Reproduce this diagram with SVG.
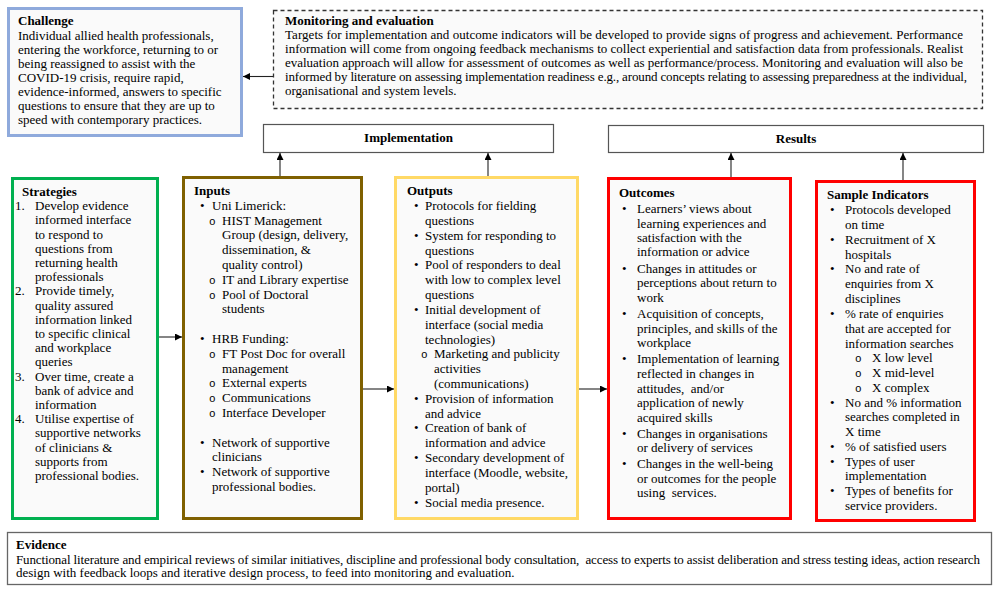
<svg xmlns="http://www.w3.org/2000/svg" width="1000" height="592" viewBox="0 0 1000 592">
<style>
text{font-family:"Liberation Serif","Times New Roman",serif;font-size:13px;fill:#000}
.b{font-weight:bold}
.c{text-anchor:middle}
.o{font-family:"Liberation Mono","Courier New",monospace;font-size:11px}
.box{fill:#fafafa;stroke-width:3}
.conn{fill:none;stroke:#222;stroke-width:1.1}
</style>
<defs>
<marker id="ah" markerWidth="8" markerHeight="8" refX="7" refY="3.5" orient="auto" markerUnits="userSpaceOnUse"><path d="M0,0 L7,3.5 L0,7 z" fill="#000"/></marker>
</defs>
<rect width="1000" height="592" fill="#fff"/>

<g id="challenge">
<rect class="box" x="8.5" y="8.5" width="233" height="127" stroke="#8FAADC"/>
<text x="18" y="25" class="b">Challenge</text>
<text x="18" y="39.5">Individual allied health professionals,</text>
<text x="18" y="53.5">entering the workforce, returning to or</text>
<text x="18" y="67.5">being reassigned to assist with the</text>
<text x="18" y="81.5">COVID-19 crisis, require rapid,</text>
<text x="18" y="95.5">evidence-informed, answers to specific</text>
<text x="18" y="109.5">questions to ensure that they are up to</text>
<text x="18" y="123.5">speed with contemporary practices.</text>
</g>

<g id="monitoring">
<rect x="273.5" y="10.5" width="709" height="98" fill="#fafafa" stroke="#333" stroke-width="1.3" stroke-dasharray="4,3"/>
<text x="285" y="25" class="b">Monitoring and evaluation</text>
<text x="285" y="39.3" textLength="678" lengthAdjust="spacing">Targets for implementation and outcome indicators will be developed to provide signs of progress and achievement. Performance</text>
<text x="285" y="53.3" textLength="678" lengthAdjust="spacing">information will come from ongoing feedback mechanisms to collect experiential and satisfaction data from professionals. Realist</text>
<text x="285" y="67" textLength="678" lengthAdjust="spacing">evaluation approach will allow for assessment of outcomes as well as performance/process. Monitoring and evaluation will also be</text>
<text x="285" y="81" textLength="682" lengthAdjust="spacing">informed by literature on assessing implementation readiness e.g., around concepts relating to assessing preparedness at the individual,</text>
<text x="285" y="95">organisational and system levels.</text>
</g>

<g id="implementation">
<rect x="263.5" y="124.5" width="290" height="28" fill="#fff" stroke="#555" stroke-width="1.2"/>
<text x="408.5" y="142" class="b c">Implementation</text>
</g>

<g id="results">
<rect x="608.5" y="125.5" width="375" height="27" fill="#fff" stroke="#555" stroke-width="1.2"/>
<text x="796" y="143" class="b c">Results</text>
</g>

<g id="strategies">
<rect class="box" x="12.5" y="178.5" width="145" height="340" stroke="#00B050"/>
<text x="22" y="196" class="b">Strategies</text>
<text x="15" y="210.2">1.</text><text x="35" y="210.2">Develop evidence</text>
<text x="35" y="224.4">informed interface</text>
<text x="35" y="238.6">to respond to</text>
<text x="35" y="252.8">questions from</text>
<text x="35" y="267">returning health</text>
<text x="35" y="281.2">professionals</text>
<text x="15" y="295.4">2.</text><text x="35" y="295.4">Provide timely,</text>
<text x="35" y="309.6">quality assured</text>
<text x="35" y="323.8">information linked</text>
<text x="35" y="338">to specific clinical</text>
<text x="35" y="352.2">and workplace</text>
<text x="35" y="366.4">queries</text>
<text x="15" y="380.6">3.</text><text x="35" y="380.6">Over time, create a</text>
<text x="35" y="394.8">bank of advice and</text>
<text x="35" y="409">information</text>
<text x="15" y="423.2">4.</text><text x="35" y="423.2">Utilise expertise of</text>
<text x="35" y="437.4">supportive networks</text>
<text x="35" y="451.6">of clinicians &amp;</text>
<text x="35" y="465.8">supports from</text>
<text x="35" y="480">professional bodies.</text>
</g>

<g id="inputs">
<rect class="box" x="183.5" y="177.5" width="178" height="341" stroke="#7F6000"/>
<text x="194" y="195" class="b">Inputs</text>
<text x="200" y="209.8">•</text><text x="212" y="209.8">Uni Limerick:</text>
<text x="209" y="224.6" class="o">o</text><text x="222" y="224.6">HIST Management</text>
<text x="222" y="239.4">Group (design, delivery,</text>
<text x="222" y="254.2">dissemination, &amp;</text>
<text x="222" y="269">quality control)</text>
<text x="209" y="283.8" class="o">o</text><text x="222" y="283.8">IT and Library expertise</text>
<text x="209" y="298.6" class="o">o</text><text x="222" y="298.6">Pool of Doctoral</text>
<text x="222" y="313.4">students</text>
<text x="200" y="343">•</text><text x="212" y="343">HRB Funding:</text>
<text x="209" y="357.8" class="o">o</text><text x="222" y="357.8">FT Post Doc for overall</text>
<text x="222" y="372.6">management</text>
<text x="209" y="387.4" class="o">o</text><text x="222" y="387.4">External experts</text>
<text x="209" y="402.2" class="o">o</text><text x="222" y="402.2">Communications</text>
<text x="209" y="417" class="o">o</text><text x="222" y="417">Interface Developer</text>
<text x="200" y="446.6">•</text><text x="212" y="446.6">Network of supportive</text>
<text x="212" y="461.4">clinicians</text>
<text x="200" y="476.2">•</text><text x="212" y="476.2">Network of supportive</text>
<text x="212" y="491">professional bodies.</text>
</g>

<g id="outputs">
<rect class="box" x="395.5" y="177.5" width="182" height="341" stroke="#FFD966"/>
<text x="407" y="195.3" class="b">Outputs</text>
<text x="414" y="210.1">•</text><text x="425" y="210.1">Protocols for fielding</text>
<text x="425" y="224.9">questions</text>
<text x="414" y="239.8">•</text><text x="425" y="239.8">System for responding to</text>
<text x="425" y="254.6">questions</text>
<text x="414" y="269.4">•</text><text x="425" y="269.4">Pool of responders to deal</text>
<text x="425" y="284.2">with low to complex level</text>
<text x="425" y="299">questions</text>
<text x="414" y="313.9">•</text><text x="425" y="313.9">Initial development of</text>
<text x="425" y="328.7">interface (social media</text>
<text x="425" y="343.5">technologies)</text>
<text x="421" y="358.3" class="o">o</text><text x="434" y="358.3">Marketing and publicity</text>
<text x="434" y="373.1">activities</text>
<text x="434" y="388">(communications)</text>
<text x="414" y="402.8">•</text><text x="425" y="402.8">Provision of information</text>
<text x="425" y="417.6">and advice</text>
<text x="414" y="432.4">•</text><text x="425" y="432.4">Creation of bank of</text>
<text x="425" y="447.2">information and advice</text>
<text x="414" y="462">•</text><text x="425" y="462">Secondary development of</text>
<text x="425" y="476.9">interface (Moodle, website,</text>
<text x="425" y="491.7">portal)</text>
<text x="414" y="506.5">•</text><text x="425" y="506.5">Social media presence.</text>
</g>

<g id="outcomes">
<rect class="box" x="608.5" y="178.5" width="182" height="340" stroke="#FF0000"/>
<text x="619" y="196.6" class="b">Outcomes</text>
<text x="622" y="212.6">•</text><text x="637" y="212.6">Learners’ views about</text>
<text x="637" y="227.6">learning experiences and</text>
<text x="637" y="242">satisfaction with the</text>
<text x="637" y="256.3">information or advice</text>
<text x="622" y="272.6">•</text><text x="637" y="272.6">Changes in attitudes or</text>
<text x="637" y="287">perceptions about return to</text>
<text x="637" y="301.6">work</text>
<text x="622" y="318.3">•</text><text x="637" y="318.3">Acquisition of concepts,</text>
<text x="637" y="332.6">principles, and skills of the</text>
<text x="637" y="347">workplace</text>
<text x="622" y="362.6">•</text><text x="637" y="362.6">Implementation of learning</text>
<text x="637" y="377.6">reflected in changes in</text>
<text x="637" y="392.6">attitudes,&#160; and/or</text>
<text x="637" y="407">application of newly</text>
<text x="637" y="421.6">acquired skills</text>
<text x="622" y="437.6">•</text><text x="637" y="437.6">Changes in organisations</text>
<text x="637" y="452">or delivery of services</text>
<text x="622" y="467.6">•</text><text x="637" y="467.6">Changes in the well-being</text>
<text x="637" y="482.6">or outcomes for the people</text>
<text x="637" y="497">using&#160; services.</text>
</g>

<g id="indicators">
<rect class="box" x="816.5" y="181.5" width="158" height="339" stroke="#FF0000"/>
<text x="827" y="198.6" class="b">Sample Indicators</text>
<text x="830" y="213.6">•</text><text x="845" y="213.6">Protocols developed</text>
<text x="845" y="228.6">on time</text>
<text x="830" y="243.6">•</text><text x="845" y="243.6">Recruitment of X</text>
<text x="845" y="258.6">hospitals</text>
<text x="830" y="273.3">•</text><text x="845" y="273.3">No and rate of</text>
<text x="845" y="288.3">enquiries from X</text>
<text x="845" y="303">disciplines</text>
<text x="830" y="318">•</text><text x="845" y="318">% rate of enquiries</text>
<text x="845" y="332.6">that are accepted for</text>
<text x="845" y="347.6">information searches</text>
<text x="855" y="362" class="o">o</text><text x="872" y="362">X low level</text>
<text x="855" y="376.6" class="o">o</text><text x="872" y="376.6">X mid-level</text>
<text x="855" y="391.6" class="o">o</text><text x="872" y="391.6">X complex</text>
<text x="830" y="406.6">•</text><text x="845" y="406.6">No and % information</text>
<text x="845" y="421.3">searches completed in</text>
<text x="845" y="436">X time</text>
<text x="830" y="451">•</text><text x="845" y="451">% of satisfied users</text>
<text x="830" y="466">•</text><text x="845" y="466">Types of user</text>
<text x="845" y="480.3">implementation</text>
<text x="830" y="495.3">•</text><text x="845" y="495.3">Types of benefits for</text>
<text x="845" y="510.3">service providers.</text>
</g>

<g id="evidence">
<rect x="7.5" y="532.5" width="984" height="52" fill="#fff" stroke="#666" stroke-width="1.3"/>
<text x="16" y="548.5" class="b">Evidence</text>
<text x="16" y="563.5" textLength="964" lengthAdjust="spacing">Functional literature and empirical reviews of similar initiatives, discipline and professional body consultation,&#160; access to experts to assist deliberation and stress testing ideas, action research</text>
<text x="16" y="576.5">design with feedback loops and iterative design process, to feed into monitoring and evaluation.</text>
</g>

<g id="connectors">
<path class="conn" d="M273,76.5 H243" marker-end="url(#ah)"/>
<path class="conn" d="M159,337 H182" marker-end="url(#ah)"/>
<path class="conn" d="M363,389 H394" marker-end="url(#ah)"/>
<path class="conn" d="M579,389 H607" marker-end="url(#ah)"/>
<path class="conn" d="M280,176 V153" marker-end="url(#ah)"/>
<path class="conn" d="M488,176 V153" marker-end="url(#ah)"/>
<path class="conn" d="M731,177 V153" marker-end="url(#ah)"/>
<path class="conn" d="M903,180 V153" marker-end="url(#ah)"/>
</g>
</svg>
